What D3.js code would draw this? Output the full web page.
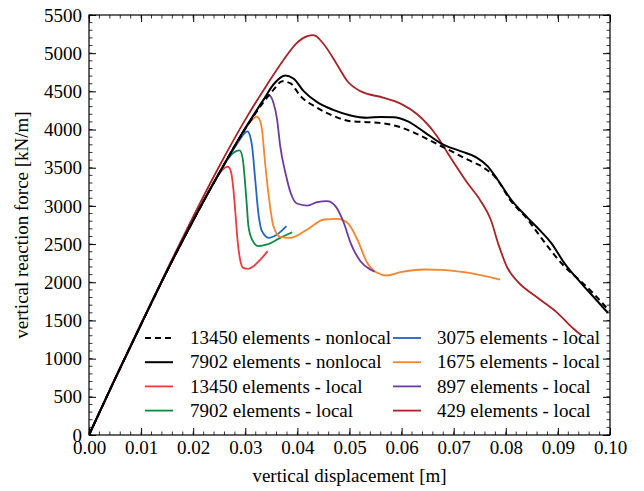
<!DOCTYPE html>
<html>
<head>
<meta charset="utf-8">
<script src="https://cdn.jsdelivr.net/npm/d3@7"></script>
<style>
  html, body { margin: 0; padding: 0; background: #fff; }
  svg text { font-family: "Liberation Serif", "DejaVu Serif", serif; fill: #000; }
</style>
</head>
<body>
<svg id="chart" width="644" height="491"></svg>
<script>
// Force-displacement curves: nonlocal vs local damage models at several mesh sizes.
// Displacement in m, vertical reaction force in kN/m.

const xTicks = [0.00, 0.01, 0.02, 0.03, 0.04, 0.05, 0.06, 0.07, 0.08, 0.09, 0.10];
const yTicks = [0, 500, 1000, 1500, 2000, 2500, 3000, 3500, 4000, 4500, 5000, 5500];

const seriesNames = [
  "13450 elements - nonlocal",
  "7902 elements - nonlocal",
  "13450 elements - local",
  "7902 elements - local",
  "3075 elements - local",
  "1675 elements - local",
  "897 elements - local",
  "429 elements - local"
];

const nonlocal13450 = [
  [0,0],[0.005,735],[0.01,1450],[0.015,2150],[0.02,2810],[0.025,3430],[0.03,4010],
  [0.0335,4360],[0.0354,4520],[0.0371,4633],[0.0387,4603],[0.0406,4437],[0.0438,4285],
  [0.047,4175],[0.0502,4110],[0.0534,4097],[0.0566,4080],[0.0598,4030],[0.063,3940],
  [0.0668,3810],[0.07,3700],[0.0726,3608],[0.0758,3499],[0.0781,3368],[0.081,3062],
  [0.0842,2822],[0.0861,2648],[0.088,2473],[0.0909,2233],[0.0944,2014],[0.097,1840],
  [0.0999,1621]
];

const nonlocal7902 = [
  [0,0],[0.005,735],[0.01,1450],[0.015,2150],[0.02,2810],[0.025,3430],[0.03,4020],
  [0.0335,4390],[0.0354,4590],[0.0377,4708],[0.0393,4665],[0.0412,4503],[0.0438,4358],
  [0.047,4254],[0.0502,4184],[0.0534,4154],[0.056,4165],[0.0585,4162],[0.0611,4110],
  [0.0643,3970],[0.0678,3810],[0.0713,3717],[0.0745,3630],[0.0765,3521],[0.0784,3346],
  [0.081,3084],[0.0842,2844],[0.0867,2669],[0.0887,2517],[0.0912,2255],[0.0944,1993],
  [0.097,1797],[0.0996,1600]
];

const local13450 = [
  [0,0],[0.005,735],[0.01,1450],[0.015,2150],[0.02,2810],[0.024,3310],[0.0255,3465],
  [0.02665,3514],[0.0272,3460],[0.0277,3230],[0.0281,2910],[0.0285,2560],[0.029,2298],
  [0.0296,2189],[0.0306,2176],[0.0316,2211],[0.0329,2298],[0.0343,2407]
];

const local7902 = [
  [0,0],[0.005,735],[0.01,1450],[0.015,2150],[0.02,2810],[0.025,3430],[0.0265,3600],
  [0.0278,3700],[0.0289,3726],[0.0295,3620],[0.0299,3350],[0.0303,3000],[0.0306,2734],
  [0.0313,2560],[0.0325,2473],[0.0342,2495],[0.0367,2582],[0.039,2656]
];

const local3075 = [
  [0,0],[0.005,735],[0.01,1450],[0.015,2150],[0.02,2810],[0.025,3430],[0.0285,3820],
  [0.0297,3940],[0.0304,3975],[0.0309,3920],[0.0313,3782],[0.0319,3346],[0.0325,2910],
  [0.0332,2669],[0.0345,2582],[0.0361,2626],[0.0379,2734]
];

const local1675 = [
  [0,0],[0.005,735],[0.01,1450],[0.015,2150],[0.02,2810],[0.025,3430],[0.03,4010],
  [0.0312,4120],[0.0322,4168],[0.0328,4120],[0.0332,4001],[0.0338,3565],[0.0345,3127],
  [0.0354,2734],[0.0367,2596],[0.0387,2582],[0.0419,2691],[0.0451,2822],[0.0476,2831],
  [0.0496,2779],[0.0515,2560],[0.0534,2255],[0.0553,2124],[0.0572,2089],[0.0598,2132],
  [0.0643,2167],[0.0675,2163],[0.072,2132],[0.0789,2036]
];

const local897 = [
  [0,0],[0.005,735],[0.01,1450],[0.015,2150],[0.02,2810],[0.025,3430],[0.03,4010],
  [0.032,4230],[0.0335,4390],[0.0345,4450],[0.0354,4350],[0.0361,4132],[0.0367,3782],
  [0.0377,3434],[0.0387,3172],[0.0399,3032],[0.0419,3005],[0.0438,3049],[0.0457,3062],
  [0.0473,2997],[0.0489,2779],[0.0502,2517],[0.0521,2276],[0.054,2167],[0.0548,2140]
];

const local429 = [
  [0,0],[0.005,740],[0.01,1460],[0.015,2170],[0.02,2860],[0.025,3520],[0.03,4130],
  [0.0342,4590],[0.0374,4917],[0.0399,5136],[0.0419,5223],[0.0431,5236],[0.0451,5114],
  [0.0476,4852],[0.0496,4633],[0.0521,4503],[0.0566,4416],[0.0598,4340],[0.063,4200],
  [0.0668,3913],[0.0688,3696],[0.0726,3303],[0.0752,3062],[0.0771,2822],[0.0787,2473],
  [0.0803,2190],[0.0822,2014],[0.0861,1797],[0.0899,1600],[0.093,1391],[0.0946,1300]
];

const seriesData = [nonlocal13450, nonlocal7902, local13450, local7902,
                    local3075, local1675, local897, local429];

// Line styles, one per series
const styles = [
  { color: "#000000", width: 2.0, dash: "6,4" },
  { color: "#000000", width: 2.0, dash: null },
  { color: "#f0393d", width: 1.8, dash: null },
  { color: "#0c8a45", width: 1.8, dash: null },
  { color: "#2466be", width: 1.8, dash: null },
  { color: "#f5862c", width: 1.8, dash: null },
  { color: "#6d3aa3", width: 1.8, dash: null },
  { color: "#a82226", width: 1.8, dash: null }
];

const svg = d3.select("#chart");
const margin = { left: 89, right: 34, top: 15, bottom: 56 };
const W = 644, H = 491;
const x0 = margin.left, x1 = W - margin.right, y0 = H - margin.bottom, y1 = margin.top;

const x = d3.scaleLinear().domain([0, 0.10]).range([x0, x1]);
const y = d3.scaleLinear().domain([0, 5500]).range([y0, y1]);

const clipId = "plot-clip";
svg.append("defs").append("clipPath").attr("id", clipId)
  .append("rect").attr("x", x0).attr("y", y1).attr("width", x1 - x0).attr("height", y0 - y1);

const line = d3.line().x(d => x(d[0])).y(d => y(d[1])).curve(d3.curveMonotoneX);

// Draw local curves first, nonlocal on top
const drawOrder = [2, 3, 4, 5, 6, 7, 0, 1];
const plot = svg.append("g").attr("clip-path", `url(#${clipId})`);
drawOrder.forEach(i => {
  const s = styles[i];
  plot.append("path")
    .datum(seriesData[i])
    .attr("d", line)
    .attr("fill", "none")
    .attr("stroke", s.color)
    .attr("stroke-width", s.width)
    .attr("stroke-linejoin", "round")
    .attr("stroke-dasharray", s.dash);
});

// Axes with inward major/minor ticks on all four sides
const fontSize = 19;
const xMinor = d3.range(0, 0.1001, 0.002);
const yMinor = d3.range(0, 5501, 100);
const majLen = 7, minLen = 3.5;

const axisBottom = d3.axisBottom(x).tickValues(xTicks).tickFormat(d3.format(".2f"))
  .tickSizeInner(-majLen).tickSizeOuter(0).tickPadding(6);
const axisLeft = d3.axisLeft(y).tickValues(yTicks).tickFormat(d3.format("d"))
  .tickSizeInner(-majLen).tickSizeOuter(0).tickPadding(7);

function styleAxis(g) {
  g.select(".domain").remove();
  g.selectAll(".tick line").attr("stroke", "#000").attr("stroke-width", 1);
  g.selectAll(".tick text").attr("font-size", fontSize).attr("font-family", "Liberation Serif, serif");
}

svg.append("g").attr("transform", `translate(0,${y0})`).call(axisBottom).call(styleAxis);
svg.append("g").attr("transform", `translate(${x0},0)`).call(axisLeft).call(styleAxis);
svg.append("g").attr("transform", `translate(0,${y1})`)
  .call(d3.axisTop(x).tickValues(xTicks).tickFormat("").tickSizeInner(-majLen).tickSizeOuter(0))
  .call(styleAxis);
svg.append("g").attr("transform", `translate(${x1},0)`)
  .call(d3.axisRight(y).tickValues(yTicks).tickFormat("").tickSizeInner(-majLen).tickSizeOuter(0))
  .call(styleAxis);

// Minor ticks
const minorG = svg.append("g").attr("stroke", "#000").attr("stroke-width", 0.8);
xMinor.forEach(v => {
  const px = x(v);
  minorG.append("line").attr("x1", px).attr("x2", px).attr("y1", y0).attr("y2", y0 - minLen);
  minorG.append("line").attr("x1", px).attr("x2", px).attr("y1", y1).attr("y2", y1 + minLen);
});
yMinor.forEach(v => {
  const py = y(v);
  minorG.append("line").attr("x1", x0).attr("x2", x0 + minLen).attr("y1", py).attr("y2", py);
  minorG.append("line").attr("x1", x1).attr("x2", x1 - minLen).attr("y1", py).attr("y2", py);
});

// Frame
svg.append("rect").attr("x", x0).attr("y", y1).attr("width", x1 - x0).attr("height", y0 - y1)
  .attr("fill", "none").attr("stroke", "#000").attr("stroke-width", 1.2);

// Axis titles
svg.append("text").attr("x", (x0 + x1) / 2).attr("y", 482)
  .attr("text-anchor", "middle").attr("font-size", fontSize)
  .text("vertical displacement [m]");
svg.append("text")
  .attr("transform", `translate(28,${(y0 + y1) / 2}) rotate(-90)`)
  .attr("text-anchor", "middle").attr("font-size", fontSize)
  .text("vertical reaction force [kN/m]");

// Legend: two columns of four entries
const legendCols = [{ lx: 145, tx: 190 }, { lx: 393, tx: 437 }];
const rowY0 = 338, rowStep = 24.2;
seriesNames.forEach((name, i) => {
  const col = legendCols[Math.floor(i / 4)];
  const ry = rowY0 + (i % 4) * rowStep;
  const s = styles[i];
  svg.append("line")
    .attr("x1", col.lx).attr("x2", col.lx + 28).attr("y1", ry).attr("y2", ry)
    .attr("stroke", s.color).attr("stroke-width", s.width)
    .attr("stroke-dasharray", s.dash);
  svg.append("text").attr("x", col.tx).attr("y", ry).attr("dy", "0.33em")
    .attr("font-size", fontSize).text(name);
});
</script>
</body>
</html>
